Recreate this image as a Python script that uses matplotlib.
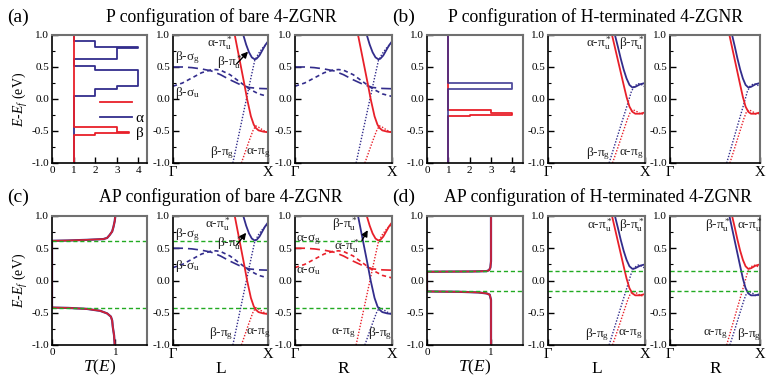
import numpy as np
import matplotlib
matplotlib.use('Agg')
import matplotlib.pyplot as plt
from matplotlib.lines import Line2D
from matplotlib.ticker import MultipleLocator, FormatStrFormatter

plt.rcParams['font.family'] = 'serif'
plt.rcParams['font.serif'] = ['Liberation Serif', 'DejaVu Serif']
plt.rcParams['mathtext.fontset'] = 'custom'
plt.rcParams['mathtext.rm'] = 'Liberation Serif'
plt.rcParams['mathtext.it'] = 'Liberation Serif:italic'
plt.rcParams['axes.unicode_minus'] = False

W, H = 767, 381
RED = '#e8202a'
BLUE = '#332d8c'
GREEN = '#22aa22'
GRAY = '#707070'

# ---- P configuration, transmission steps (band edges in E, T in each slab)
bare_alpha_edges = [-1.0, 0.04, 0.16, 0.21, 0.455, 0.51, 0.62, 0.79, 0.81, 0.91, 1.0]
bare_alpha_T = [1, 2, 3, 4, 2, 1, 3, 4, 2, 1]
bare_beta_edges = [-1.0, -0.56, -0.527, -0.51, -0.43, 1.0]
bare_beta_T = [1, 2, 3.55, 3, 1]

hterm_alpha_edges = [-1.0, 0.15, 0.245, 1.0]
hterm_alpha_T = [1, 4, 1]
hterm_beta_edges = [-1.0, -0.27, -0.245, -0.225, -0.165, 1.0]
hterm_beta_T = [1, 2, 4, 3, 1]

# ---- AP configuration, smooth transmission
ap_bare_E = [-1.0, -0.85, -0.72, -0.62, -0.56, -0.51, -0.47, -0.44, -0.425, -0.42,
             0.615, 0.62, 0.63, 0.642, 0.66, 0.705, 0.76, 0.83, 0.92, 1.0]
ap_bare_T = [0.99, 0.98, 0.96, 0.95, 0.93, 0.87, 0.76, 0.55, 0.25, 0.0,
             0.0, 0.25, 0.55, 0.81, 0.87, 0.91, 0.95, 0.97, 0.99, 1.0]
ap_hterm_E = [-1.0, -0.3, -0.22, -0.2, -0.185, -0.175, -0.17,
              0.136, 0.14, 0.145, 0.16, 0.2, 0.3, 1.0]
ap_hterm_T = [1.0, 1.0, 0.98, 0.93, 0.8, 0.5, 0.0,
              0.0, 0.7, 0.93, 0.97, 0.99, 1.0, 1.0]

# gap edges (green dashed)
ap_bare_gap = [0.62, -0.42]
ap_hterm_gap = [0.145, -0.165]

# ---- bare 4-ZGNR bands (k: Gamma=0 -> X=1)
bare_k_sg = [0.0, 0.1, 0.2, 0.3, 0.4, 0.5, 0.6, 0.7, 0.8, 0.9, 1.0]
bare_e_sg = [0.50, 0.50, 0.49, 0.47, 0.44, 0.38, 0.30, 0.23, 0.18, 0.165, 0.16]
bare_k_su = [0.0, 0.1, 0.2, 0.3, 0.4, 0.45, 0.5, 0.6, 0.7, 0.8, 0.9, 1.0]
bare_e_su = [0.20, 0.25, 0.33, 0.41, 0.455, 0.46, 0.45, 0.38, 0.27, 0.16, 0.08, 0.04]
bare_k_steep = [0.65, 0.70, 0.75, 0.78, 0.82, 0.85, 0.87, 0.90, 0.95, 1.0]
bare_e_steep = [1.0, 0.62, 0.24, 0.0, -0.27, -0.40, -0.45, -0.49, -0.51, -0.52]
bare_k_bowl = [0.74, 0.77, 0.80, 0.83, 0.86, 0.88, 0.91, 0.94, 0.97, 1.0]
bare_e_bowl = [1.0, 0.85, 0.73, 0.65, 0.62, 0.63, 0.68, 0.76, 0.84, 0.90]
bare_k_pg_hi = [0.63, 0.70, 0.77, 0.82, 0.86, 0.90, 0.95, 1.0]
bare_e_pg_hi = [-1.0, -0.51, -0.02, 0.33, 0.60, 0.71, 0.81, 0.87]
bare_k_pg_lo = [0.72, 0.76, 0.80, 0.84, 0.87, 0.90, 0.95, 1.0]
bare_e_pg_lo = [-1.0, -0.83, -0.66, -0.50, -0.42, -0.44, -0.49, -0.52]

# ---- H-terminated 4-ZGNR bands
hterm_k_dn = [0.66, 0.70, 0.74, 0.78, 0.81, 0.84, 0.87, 0.90, 0.95, 1.0]
hterm_e_dn = [1.0, 0.74, 0.48, 0.22, 0.03, -0.12, -0.20, -0.23, -0.23, -0.21]
hterm_k_up = [0.69, 0.72, 0.75, 0.78, 0.81, 0.84, 0.87, 0.90, 0.95, 1.0]
hterm_e_up = [1.0, 0.82, 0.63, 0.46, 0.32, 0.22, 0.18, 0.19, 0.23, 0.25]
hterm_k_pg_up = [0.63, 0.70, 0.76, 0.82, 0.86, 0.89, 0.93, 0.97, 1.0]
hterm_e_pg_up = [-1.0, -0.66, -0.37, -0.08, 0.12, 0.20, 0.24, 0.22, 0.19]
hterm_k_pg_dn = [0.665, 0.72, 0.78, 0.82, 0.85, 0.88, 0.92, 0.96, 1.0]
hterm_e_pg_dn = [-1.0, -0.76, -0.49, -0.31, -0.20, -0.17, -0.20, -0.24, -0.22]

LBL = 9.5


def add_panel(fig, x0, x1, ytop, ybot):
    ax = fig.add_axes([x0 / W, 1 - ybot / H, (x1 - x0) / W, (ybot - ytop) / H])
    ax.set_ylim(-1, 1)
    ax.yaxis.set_major_locator(MultipleLocator(0.5))
    ax.yaxis.set_minor_locator(MultipleLocator(0.25))
    ax.yaxis.set_major_formatter(FormatStrFormatter('%.1f'))
    ax.tick_params(direction='in', labelsize=8, length=4, width=1, pad=2,
                   top=False, right=False)
    ax.tick_params(which='minor', direction='in', length=2.5, width=0.8,
                   top=False, right=False)
    for s in ('left', 'bottom'):
        ax.spines[s].set_color('k')
        ax.spines[s].set_linewidth(1.2)
    for s in ('top', 'right'):
        ax.spines[s].set_color(GRAY)
        ax.spines[s].set_linewidth(1.5)
    return ax


def band_axis(ax):
    ax.set_xlim(0, 1)
    ax.set_xticks([0, 1])
    ax.set_xticklabels(['Γ', 'X'], fontsize=10.5)


def step_path(edges, values):
    t = np.repeat(values, 2)
    e = np.column_stack([edges[:-1], edges[1:]]).ravel()
    return t, e


def draw_bare(ax, c_sig, c_steep, c_bowl, c_hi, c_lo):
    ax.plot(bare_k_sg, bare_e_sg, color=c_sig, lw=1.2, dashes=(6, 3))
    ax.plot(bare_k_su, bare_e_su, color=c_sig, lw=1.2, dashes=(2.5, 2))
    ax.plot(bare_k_pg_hi, bare_e_pg_hi, color=c_hi, lw=1.0, dashes=(1, 1.2))
    ax.plot(bare_k_pg_lo, bare_e_pg_lo, color=c_lo, lw=1.0, dashes=(1, 1.2))
    ax.plot(bare_k_steep, bare_e_steep, color=c_steep, lw=1.3)
    ax.plot(bare_k_bowl, bare_e_bowl, color=c_bowl, lw=1.3)


def draw_hterm(ax, c_dn, c_up):
    ax.plot(hterm_k_pg_up, hterm_e_pg_up, color=c_up, lw=1.0, dashes=(1, 1.2))
    ax.plot(hterm_k_pg_dn, hterm_e_pg_dn, color=c_dn, lw=1.0, dashes=(1, 1.2))
    ax.plot(hterm_k_up, hterm_e_up, color=c_up, lw=1.3)
    ax.plot(hterm_k_dn, hterm_e_dn, color=c_dn, lw=1.3)


def label(ax, x, y, s, ha='left'):
    ax.text(x, y, s, fontsize=LBL, ha=ha, va='center', color='#222222')


def arrow(ax, xy, xytext):
    ax.annotate('', xy=xy, xytext=xytext,
                arrowprops=dict(arrowstyle='-|>', color='k', lw=1.0,
                                mutation_scale=9, shrinkA=0, shrinkB=0))


def gap_lines(ax, gap):
    for g in gap:
        ax.axhline(g, color=GREEN, lw=1.0, dashes=(3, 2))


def main():
    fig = plt.figure(figsize=(W / 100, H / 100), dpi=100)

    top, bot = (35, 163), (216, 345)
    cols = [(52, 147), (173, 268), (295, 392), (427, 523), (548, 645), (670, 760)]

    # titles
    tkw = dict(fontsize=12.8, ha='center', va='center')
    fig.text(7 / W, 1 - 17 / H, '(a)', fontsize=14, va='center')
    fig.text(221 / W, 1 - 17 / H, 'P configuration of bare 4-ZGNR', **tkw)
    fig.text(392 / W, 1 - 17 / H, '(b)', fontsize=14, va='center')
    fig.text(596 / W, 1 - 17 / H, 'P configuration of H-terminated 4-ZGNR', **tkw)
    fig.text(7 / W, 1 - 197 / H, '(c)', fontsize=14, va='center')
    fig.text(221 / W, 1 - 197 / H, 'AP configuration of bare 4-ZGNR', **tkw)
    fig.text(392 / W, 1 - 197 / H, '(d)', fontsize=14, va='center')
    fig.text(598 / W, 1 - 197 / H, 'AP configuration of H-terminated 4-ZGNR', **tkw)

    # ---- (a) T panel
    ax = add_panel(fig, *cols[0], *top)
    t, e = step_path(bare_alpha_edges, bare_alpha_T)
    ax.plot(t, e, color=BLUE, lw=1.3)
    t, e = step_path(bare_beta_edges, bare_beta_T)
    ax.plot(t, e, color=RED, lw=1.3)
    ax.set_xlim(0, 4.4)
    ax.set_xticks([0, 1, 2, 3, 4])
    ax.set_ylabel(r'$E$-$E_f$ (eV)', fontsize=10, labelpad=1)
    handles = [Line2D([], [], color=RED, lw=1.3), Line2D([], [], color=BLUE, lw=1.3),
               Line2D([], [], color='none')]
    ax.legend(handles, ['', 'α', 'β'], loc='upper left', bbox_to_anchor=(0.43, 0.575),
              frameon=False, fontsize=11, handlelength=2.05, labelspacing=0.05,
              handletextpad=0.25, borderpad=0)

    # ---- (a) L, R
    ax = add_panel(fig, *cols[1], *top)
    band_axis(ax)
    draw_bare(ax, BLUE, RED, BLUE, BLUE, RED)
    label(ax, 0.02, 0.65, 'β-σ$_\\mathrm{g}$')
    label(ax, 0.02, 0.09, 'β-σ$_\\mathrm{u}$')
    label(ax, 0.63, 0.87, 'α-π$^*_\\mathrm{u}$', ha='right')
    label(ax, 0.46, 0.58, 'β-π$^*_\\mathrm{u}$')
    arrow(ax, (0.79, 0.74), (0.67, 0.55))
    label(ax, 0.65, -0.845, 'β-π$_\\mathrm{g}$', ha='right')
    label(ax, 0.77, -0.845, 'α-π$_\\mathrm{g}$')

    ax = add_panel(fig, *cols[2], *top)
    band_axis(ax)
    draw_bare(ax, BLUE, RED, BLUE, BLUE, RED)

    # ---- (b) T panel
    ax = add_panel(fig, *cols[3], *top)
    t, e = step_path(hterm_beta_edges, hterm_beta_T)
    ax.plot(t, e, color=RED, lw=1.3)
    t, e = step_path(hterm_alpha_edges, hterm_alpha_T)
    ax.plot(t, e, color=BLUE, lw=1.3, alpha=0.85)
    ax.set_xlim(0, 4.5)
    ax.set_xticks([0, 1, 2, 3, 4])

    ax = add_panel(fig, *cols[4], *top)
    band_axis(ax)
    draw_hterm(ax, RED, BLUE)
    label(ax, 0.66, 0.87, 'α-π$^*_\\mathrm{u}$', ha='right')
    label(ax, 0.735, 0.87, 'β-π$^*_\\mathrm{u}$')
    label(ax, 0.64, -0.855, 'β-π$_\\mathrm{g}$', ha='right')
    label(ax, 0.735, -0.855, 'α-π$_\\mathrm{g}$')

    ax = add_panel(fig, *cols[5], *top)
    band_axis(ax)
    draw_hterm(ax, RED, BLUE)

    # ---- (c) T panel
    ax = add_panel(fig, *cols[0], *bot)
    ax.plot(ap_bare_T, ap_bare_E, color=BLUE, lw=1.6)
    ax.plot(ap_bare_T, ap_bare_E, color=RED, lw=1.2, alpha=0.9)
    gap_lines(ax, ap_bare_gap)
    ax.set_xlim(0, 1.5)
    ax.set_xticks([0, 1])
    ax.set_ylabel(r'$E$-$E_f$ (eV)', fontsize=10, labelpad=1)
    ax.set_xlabel(r'$T(E)$', fontsize=12.5, labelpad=1)

    ax = add_panel(fig, *cols[1], *bot)
    band_axis(ax)
    draw_bare(ax, BLUE, RED, BLUE, BLUE, RED)
    gap_lines(ax, ap_bare_gap)
    ax.set_xlabel('L', fontsize=12.5, labelpad=0)
    label(ax, 0.02, 0.71, 'β-σ$_\\mathrm{g}$')
    label(ax, 0.02, 0.22, 'β-σ$_\\mathrm{u}$')
    label(ax, 0.61, 0.875, 'α-π$^*_\\mathrm{u}$', ha='right')
    label(ax, 0.46, 0.58, 'β-π$^*_\\mathrm{u}$')
    arrow(ax, (0.77, 0.74), (0.67, 0.55))
    label(ax, 0.63, -0.82, 'β-π$_\\mathrm{g}$', ha='right')
    label(ax, 0.77, -0.82, 'α-π$_\\mathrm{g}$')

    ax = add_panel(fig, *cols[2], *bot)
    band_axis(ax)
    draw_bare(ax, RED, BLUE, RED, RED, BLUE)
    gap_lines(ax, ap_bare_gap)
    ax.set_xlabel('R', fontsize=12.5, labelpad=0)
    label(ax, 0.64, 0.87, 'β-π$^*_\\mathrm{u}$', ha='right')
    label(ax, 0.40, 0.53, 'α-π$^*_\\mathrm{u}$')
    arrow(ax, (0.75, 0.78), (0.69, 0.62))
    label(ax, 0.01, 0.63, 'α-σ$_\\mathrm{g}$')
    label(ax, 0.01, 0.16, 'α-σ$_\\mathrm{u}$')
    label(ax, 0.62, -0.82, 'α-π$_\\mathrm{g}$', ha='right')
    label(ax, 0.755, -0.82, 'β-π$_\\mathrm{g}$')

    # ---- (d) T panel
    ax = add_panel(fig, *cols[3], *bot)
    ax.plot(ap_hterm_T, ap_hterm_E, color=BLUE, lw=1.6)
    ax.plot(ap_hterm_T, ap_hterm_E, color=RED, lw=1.2, alpha=0.9)
    gap_lines(ax, ap_hterm_gap)
    ax.set_xlim(0, 1.5)
    ax.set_xticks([0, 1])
    ax.set_xlabel(r'$T(E)$', fontsize=12.5, labelpad=1)

    ax = add_panel(fig, *cols[4], *bot)
    band_axis(ax)
    draw_hterm(ax, RED, BLUE)
    gap_lines(ax, ap_hterm_gap)
    ax.set_xlabel('L', fontsize=12.5, labelpad=0)
    label(ax, 0.67, 0.86, 'α-π$^*_\\mathrm{u}$', ha='right')
    label(ax, 0.735, 0.86, 'β-π$^*_\\mathrm{u}$')
    label(ax, 0.63, -0.835, 'β-π$_\\mathrm{g}$', ha='right')
    label(ax, 0.725, -0.835, 'α-π$_\\mathrm{g}$')

    ax = add_panel(fig, *cols[5], *bot)
    band_axis(ax)
    draw_hterm(ax, BLUE, RED)
    gap_lines(ax, ap_hterm_gap)
    ax.set_xlabel('R', fontsize=12.5, labelpad=0)
    label(ax, 0.67, 0.86, 'β-π$^*_\\mathrm{u}$', ha='right')
    label(ax, 0.74, 0.86, 'α-π$^*_\\mathrm{u}$')
    label(ax, 0.635, -0.835, 'α-π$_\\mathrm{g}$', ha='right')
    label(ax, 0.74, -0.835, 'β-π$_\\mathrm{g}$')

    fig.savefig('out.png', dpi=100)
    plt.close(fig)


if __name__ == '__main__':
    main()
